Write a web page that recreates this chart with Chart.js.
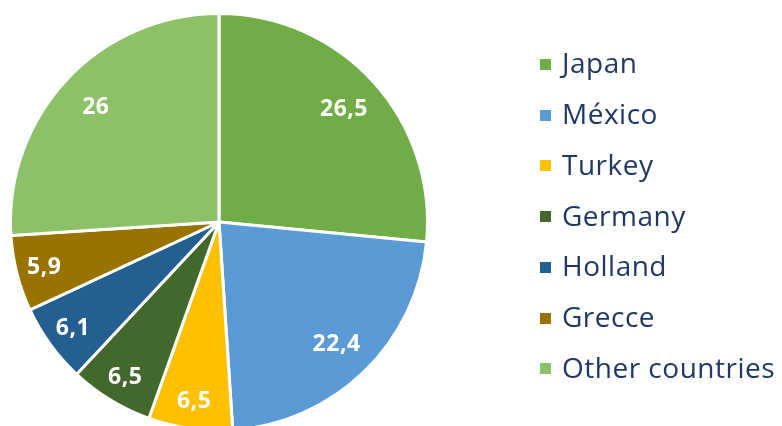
<!DOCTYPE html>
<html>
<head>
<meta charset="utf-8">
<script src="https://cdn.jsdelivr.net/npm/chart.js@4/dist/chart.umd.min.js"></script>
<style>
html,body{margin:0;padding:0;background:#fff;overflow:hidden;width:782px;height:426px;}
canvas{display:block;}
</style>
</head>
<body>
<canvas id="c" width="782" height="440"></canvas>
<script>
const categories = ["Japan", "México", "Turkey", "Germany", "Holland", "Grecce", "Other countries"];
const values = [26.5, 22.4, 6.5, 6.5, 6.1, 5.9, 26];
const valueLabels = ["26,5", "22,4", "6,5", "6,5", "6,1", "5,9", "26"];
const colors = ["#70AD47", "#5B9BD5", "#FFC000", "#43682B", "#255E91", "#997300", "#8CC168"];

const FONT = "'Open Sans', sans-serif";

const labelPlugin = {
  id: 'sliceLabels',
  afterDatasetsDraw(chart) {
    const ctx = chart.ctx;
    const meta = chart.getDatasetMeta(0);
    const total = values.reduce((a, b) => a + b, 0);
    ctx.save();
    ctx.fillStyle = '#ffffff';
    ctx.font = "bold 23px " + FONT;
    ctx.letterSpacing = '0.5px';
    ctx.textAlign = 'center';
    ctx.textBaseline = 'middle';
    meta.data.forEach((arc, i) => {
      const p = arc.getProps(['x', 'y', 'startAngle', 'endAngle', 'outerRadius'], true);
      const mid = (p.startAngle + p.endAngle) / 2;
      const frac = values[i] / total;
      const f = frac < 0.1 ? 0.865 : 0.81;
      const r = p.outerRadius * f;
      ctx.fillText(valueLabels[i], p.x + Math.cos(mid) * r, p.y + Math.sin(mid) * r + 1);
    });
    ctx.restore();
  }
};

const legendPlugin = {
  id: 'sideLegend',
  afterDraw(chart) {
    const ctx = chart.ctx;
    ctx.save();
    ctx.font = "28px " + FONT;
    ctx.letterSpacing = '0.5px';
    ctx.textBaseline = 'middle';
    ctx.textAlign = 'left';
    const x0 = 540, y0 = 64.5, step = 50.7, box = 11;
    categories.forEach((c, i) => {
      const y = y0 + i * step;
      ctx.fillStyle = colors[i];
      ctx.fillRect(x0, Math.round(y - box / 2), box, box);
      ctx.fillStyle = '#1F3864';
      ctx.fillText(c, 562, y + 1);
    });
    ctx.restore();
  }
};

new Chart(document.getElementById('c'), {
  type: 'pie',
  data: {
    labels: categories,
    datasets: [{
      data: values,
      backgroundColor: colors,
      borderColor: '#ffffff',
      borderWidth: 3
    }]
  },
  options: {
    responsive: false,
    animation: false,
    layout: { padding: { top: 12, left: 9, right: 353, bottom: 8 } },
    plugins: {
      legend: { display: false },
      tooltip: { enabled: false }
    }
  },
  plugins: [labelPlugin, legendPlugin]
});
</script>
</body>
</html>
